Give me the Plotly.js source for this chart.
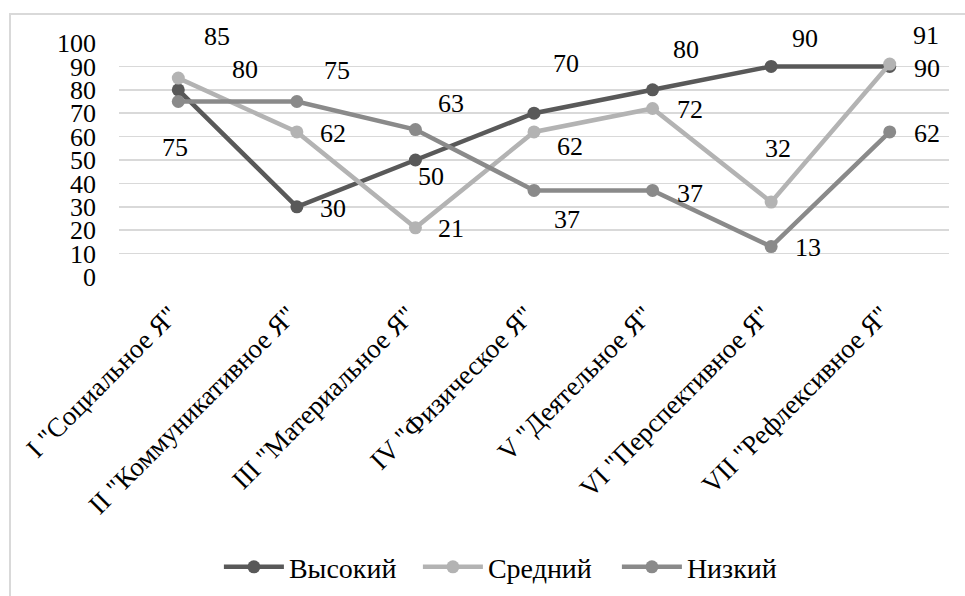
<!DOCTYPE html>
<html>
<head>
<meta charset="utf-8">
<script src="https://cdn.plot.ly/plotly-3.0.1.min.js"></script>
<style>
html,body{margin:0;padding:0;background:#fff;}
#wrap{position:relative;width:965px;height:596px;overflow:hidden;}
#frame{position:absolute;left:9px;top:13px;width:1000px;height:700px;border-left:2px solid #d9d9d9;border-top:2px solid #d9d9d9;pointer-events:none;}
#chart{position:absolute;left:0;top:0;width:965px;height:596px;}
</style>
</head>
<body>
<div id="wrap"><div id="chart"></div><div id="frame"></div></div>
<script>
const categories = ['I "Социальное Я"', 'II "Коммуникативное Я"', 'III "Материальное Я"', 'IV "Физическое Я"', 'V "Деятельное Я"', 'VI "Перспективное Я"', 'VII "Рефлексивное Я"'];
const seriesNames = ['Высокий', 'Средний', 'Низкий'];
const high = [80, 30, 50, 70, 80, 90, 90];
const mid = [85, 62, 21, 62, 72, 32, 91];
const low = [75, 75, 63, 37, 37, 13, 62];
const yTicks = [0, 10, 20, 30, 40, 50, 60, 70, 80, 90, 100];

// label offsets (style only), px: [dx, dy(up positive)]
const highOff = [[67,20],[36,-2],[16,-16],[32,50],[33,40],[34,28],[37,-2]];
const midOff = [[39,42],[36,-2],[36,-1],[36,-15],[37,-1],[7,54],[36,29]];
const lowOff = [[-3,-46],[40,31],[36,26],[33,-29],[37,-3],[37,-1],[37,-2]];

const colors = ['#595959', '#b3b3b3', '#8a8a8a'];
const font = 'Liberation Serif';

const allSeries = [high, mid, low];
const allOff = [highOff, midOff, lowOff];

const traces = allSeries.map((vals, i) => ({
  type: 'scatter', mode: 'lines+markers', name: seriesNames[i],
  x: categories, y: vals,
  line: {color: colors[i], width: 4.5},
  marker: {color: colors[i], size: 13},
  hoverinfo: 'skip'
}));

const annotations = [];
allSeries.forEach((vals, i) => {
  vals.forEach((v, j) => {
    annotations.push({
      x: categories[j], y: v, xref: 'x', yref: 'y', text: String(v), showarrow: false,
      xshift: allOff[i][j][0], yshift: allOff[i][j][1],
      font: {family: font, size: 26, color: '#000'}
    });
  });
});

const layout = {
  width: 965, height: 596,
  margin: {l: 119, r: 16, t: 43, b: 319, autoexpand: false},
  paper_bgcolor: '#fff', plot_bgcolor: '#fff',
  font: {family: font, size: 26, color: '#000'},
  showlegend: true,
  legend: {orientation: 'h', x: 0.48, xanchor: 'center', y: -1.24, yanchor: 'middle',
           font: {family: font, size: 28, color: '#000'}, itemwidth: 60,
           entrywidth: 124, entrywidthmode: 'pixels'},
  xaxis: {type: 'category', range: [-0.5, 6.5], showgrid: false, zeroline: false, showline: false,
          automargin: false,
          tickangle: -45, tickfont: {family: font, size: 27, color: '#000'}, ticks: '',
          ticklabelstandoff: 16, ticklabelshift: -8},
  yaxis: {range: [0, 100], tickvals: yTicks, ticktext: yTicks.map(String), showgrid: true,
          automargin: false,
          gridcolor: '#d9d9d9', gridwidth: 1.5, zeroline: false, showline: false, ticks: '',
          ticklabelstandoff: 22, tickfont: {family: font, size: 26, color: '#000'}},
  annotations: annotations
};

Plotly.newPlot('chart', traces, layout, {displayModeBar: false, staticPlot: true});
</script>
</body>
</html>
